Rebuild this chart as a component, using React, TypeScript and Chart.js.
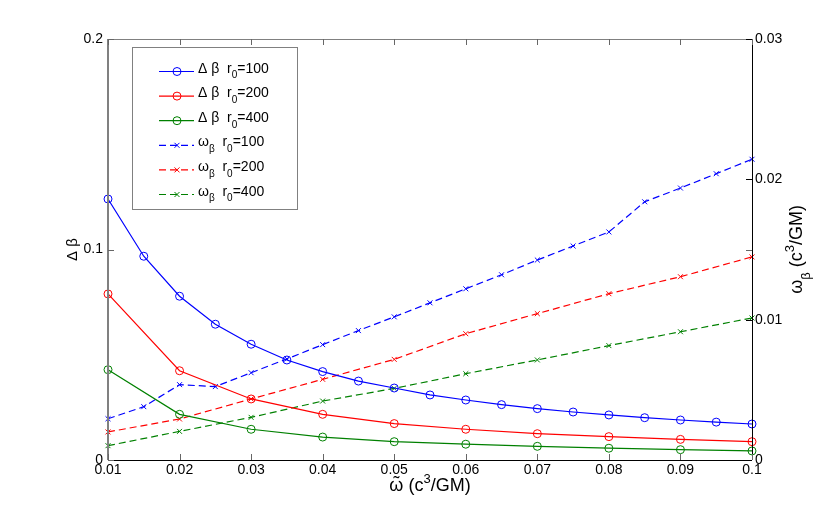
import React, { useRef, useEffect } from "react";
import { Chart, registerables } from "chart.js";

Chart.register(...registerables);

// x values: every 0.005 for r0=100, every 0.01 for the others
const xFine = [
  0.01, 0.015, 0.02, 0.025, 0.03, 0.035, 0.04, 0.045, 0.05, 0.055, 0.06, 0.065,
  0.07, 0.075, 0.08, 0.085, 0.09, 0.095, 0.1,
];
const xCoarse = [0.01, 0.02, 0.03, 0.04, 0.05, 0.06, 0.07, 0.08, 0.09, 0.1];

// Δβ (left axis)
const dbR100 = [
  0.124, 0.0968, 0.0778, 0.0645, 0.055, 0.0475, 0.042, 0.0375, 0.0342, 0.0309,
  0.0285, 0.0263, 0.0244, 0.0228, 0.0214, 0.0201, 0.019, 0.018, 0.0171,
];
const dbR200 = [0.0789, 0.0424, 0.029, 0.0217, 0.0173, 0.0146, 0.0125, 0.0111, 0.0098, 0.0087];
const dbR400 = [0.0429, 0.0217, 0.0146, 0.0109, 0.0087, 0.0075, 0.0065, 0.0056, 0.0049, 0.0043];

// ω_β (right axis)
const wbR100 = [
  0.00294, 0.0038, 0.00537, 0.00523, 0.00622, 0.0072, 0.00822, 0.00922, 0.0102,
  0.0112, 0.0122, 0.0132, 0.01425, 0.01525, 0.01625, 0.0184, 0.01938, 0.0204, 0.02143,
];
const wbR200 = [0.002, 0.00292, 0.00435, 0.00575, 0.00717, 0.009, 0.01043, 0.01185, 0.01306, 0.01447];
const wbR400 = [0.00102, 0.00204, 0.00304, 0.0042, 0.0051, 0.00615, 0.00713, 0.00815, 0.00914, 0.01012];

const xTicks = [0.01, 0.02, 0.03, 0.04, 0.05, 0.06, 0.07, 0.08, 0.09, 0.1];
const yLeftTicks = [0, 0.1, 0.2];
const yRightTicks = [0, 0.01, 0.02, 0.03];

const radiusLabels = ["100", "200", "400"];

const BLUE = "#0000ff";
const RED = "#ff0000";
const GREEN = "#008000";
const FONT = "'Liberation Sans', Arial, sans-serif";

type Seg = { t: string; sub?: boolean; sup?: boolean; tilde?: boolean };

function drawRich(ctx: CanvasRenderingContext2D, segs: Seg[], x: number, y: number, size: number, center: boolean) {
  const small = Math.round(size * 0.72);
  let total = 0;
  for (const s of segs) {
    ctx.font = `${s.sub || s.sup ? small : size}px ${FONT}`;
    total += ctx.measureText(s.t).width;
  }
  let cx = center ? x - total / 2 : x;
  ctx.textAlign = "left";
  ctx.textBaseline = "alphabetic";
  for (const s of segs) {
    ctx.font = `${s.sub || s.sup ? small : size}px ${FONT}`;
    const dy = s.sub ? size * 0.42 : s.sup ? -size * 0.45 : 0;
    const w = ctx.measureText(s.t).width;
    ctx.fillText(s.t, cx, y + dy);
    if (s.tilde) {
      ctx.textAlign = "center";
      ctx.fillText("˜", cx + w / 2, y - size * 0.12);
      ctx.textAlign = "left";
    }
    cx += w;
  }
}

const zip = (xs: number[], ys: number[]) => xs.map((x, i) => ({ x, y: ys[i] }));

const framePlugin = {
  id: "frame",
  afterDraw(chart: any) {
    const { ctx, chartArea: a, scales } = chart;
    const sx = scales.x;
    const sl = scales.y;
    const sr = scales.y1;
    ctx.save();

    // box
    ctx.lineWidth = 1;
    ctx.strokeStyle = "#808080";
    ctx.beginPath();
    ctx.moveTo(a.left, a.top + 0.5);
    ctx.lineTo(a.right, a.top + 0.5);
    ctx.stroke();
    ctx.lineWidth = 2;
    ctx.beginPath();
    ctx.moveTo(a.left, a.top);
    ctx.lineTo(a.left, a.bottom);
    ctx.stroke();
    ctx.strokeStyle = "#000";
    ctx.lineWidth = 1;
    ctx.beginPath();
    ctx.moveTo(a.left, a.bottom + 0.5);
    ctx.lineTo(a.right, a.bottom + 0.5);
    ctx.moveTo(a.right + 0.5, a.top);
    ctx.lineTo(a.right + 0.5, a.bottom);
    ctx.stroke();

    // inward ticks
    const tl = 6;
    ctx.lineWidth = 1;
    ctx.strokeStyle = "#666";
    ctx.beginPath();
    for (const v of xTicks) {
      const px = Math.round(sx.getPixelForValue(v)) + 0.5;
      ctx.moveTo(px, a.bottom);
      ctx.lineTo(px, a.bottom - tl);
      ctx.moveTo(px, a.top);
      ctx.lineTo(px, a.top + tl);
    }
    for (const v of yLeftTicks) {
      const py = Math.round(sl.getPixelForValue(v)) + 0.5;
      ctx.moveTo(a.left, py);
      ctx.lineTo(a.left + tl, py);
      ctx.moveTo(a.right, py);
      ctx.lineTo(a.right - tl, py);
    }
    ctx.stroke();
    ctx.strokeStyle = "#000";
    ctx.beginPath();
    for (const v of yRightTicks) {
      const py = Math.round(sr.getPixelForValue(v)) + 0.5;
      ctx.moveTo(a.right, py);
      ctx.lineTo(a.right - tl, py);
    }
    ctx.stroke();

    // axis titles
    ctx.fillStyle = "#000";
    drawRich(
      ctx,
      [{ t: "ω", tilde: true }, { t: " (c" }, { t: "3", sup: true }, { t: "/GM)" }],
      (a.left + a.right) / 2,
      491,
      18,
      true
    );

    ctx.save();
    ctx.translate(77, (a.top + a.bottom) / 2);
    ctx.rotate(-Math.PI / 2);
    drawRich(ctx, [{ t: "Δ β" }], 0, 0, 15, true);
    ctx.restore();

    ctx.save();
    ctx.translate(802, (a.top + a.bottom) / 2);
    ctx.rotate(-Math.PI / 2);
    drawRich(ctx, [{ t: "ω" }, { t: "β", sub: true }, { t: " (c" }, { t: "3", sup: true }, { t: "/GM)" }], 0, 0, 18, true);
    ctx.restore();

    // legend
    const bx = 132.5, by = 47.5, bw = 165, bh = 162;
    ctx.fillStyle = "#fff";
    ctx.fillRect(bx, by, bw, bh);
    ctx.strokeStyle = "#808080";
    ctx.lineWidth = 1;
    ctx.strokeRect(bx, by, bw, bh);

    chart.data.datasets.forEach((ds: any, i: number) => {
      const ly = 71.5 + i * 24.6;
      ctx.strokeStyle = ds.borderColor;
      ctx.lineWidth = 1.2;
      ctx.setLineDash(ds.borderDash || []);
      ctx.beginPath();
      ctx.moveTo(159, ly);
      ctx.lineTo(194, ly);
      ctx.stroke();
      ctx.setLineDash([]);
      ctx.lineWidth = 1;
      ctx.beginPath();
      if (ds.pointStyle === "circle") {
        ctx.arc(177, ly, 4, 0, Math.PI * 2);
      } else {
        ctx.moveTo(174.5, ly - 2.5);
        ctx.lineTo(179.5, ly + 2.5);
        ctx.moveTo(179.5, ly - 2.5);
        ctx.lineTo(174.5, ly + 2.5);
      }
      ctx.stroke();
      ctx.fillStyle = "#000";
      const r = radiusLabels[i % 3];
      const segs: Seg[] =
        i < 3
          ? [{ t: "Δ β  r" }, { t: "0", sub: true }, { t: "=" + r }]
          : [{ t: "ω" }, { t: "β", sub: true }, { t: "  r" }, { t: "0", sub: true }, { t: "=" + r }];
      drawRich(ctx, segs, 198, ly + 1, 14, false);
    });

    ctx.restore();
  },
};

const App: React.FC = () => {
  const chartRef = useRef<HTMLCanvasElement>(null);

  useEffect(() => {
    if (!chartRef.current) return;

    const line = (label: string, xs: number[], ys: number[], color: string, omega: boolean) => ({
      label,
      data: zip(xs, ys),
      yAxisID: omega ? "y1" : "y",
      borderColor: color,
      backgroundColor: color,
      borderWidth: 1.2,
      borderDash: omega ? [7, 4] : undefined,
      pointStyle: omega ? "crossRot" : "circle",
      pointRadius: omega ? 3.5 : 4,
      pointBorderWidth: 1,
      pointBackgroundColor: "rgba(0,0,0,0)",
      pointBorderColor: color,
      fill: false,
      tension: 0,
      clip: false as any,
    });

    const chart = new Chart(chartRef.current, {
      type: "line",
      data: {
        datasets: [
          line("Δβ r0=100", xFine, dbR100, BLUE, false),
          line("Δβ r0=200", xCoarse, dbR200, RED, false),
          line("Δβ r0=400", xCoarse, dbR400, GREEN, false),
          line("ωβ r0=100", xFine, wbR100, BLUE, true),
          line("ωβ r0=200", xCoarse, wbR200, RED, true),
          line("ωβ r0=400", xCoarse, wbR400, GREEN, true),
        ] as any,
      },
      options: {
        animation: false,
        responsive: false,
        devicePixelRatio: 1,
        layout: { padding: { top: 39, left: 0, right: 0, bottom: 0 } },
        plugins: {
          legend: { display: false },
          tooltip: { enabled: false },
        },
        scales: {
          x: {
            type: "linear",
            min: 0.01,
            max: 0.1,
            grid: { display: false, drawTicks: false },
            border: { display: false },
            ticks: {
              padding: 2,
              color: "#000",
              font: { family: FONT, size: 14 },
              maxRotation: 0,
              callback: (v: any) => String(v),
            },
            afterBuildTicks: (s: any) => {
              s.ticks = xTicks.map((v) => ({ value: v }));
            },
            afterFit: (s: any) => {
              s.height = 58;
            },
          },
          y: {
            type: "linear",
            position: "left",
            min: 0,
            max: 0.2,
            grid: { display: false, drawTicks: false },
            border: { display: false },
            ticks: {
              padding: 5,
              color: "#000",
              font: { family: FONT, size: 14 },
              callback: (v: any) => String(v),
            },
            afterBuildTicks: (s: any) => {
              s.ticks = yLeftTicks.map((v) => ({ value: v }));
            },
            afterFit: (s: any) => {
              s.width = 108;
            },
          },
          y1: {
            type: "linear",
            position: "right",
            min: 0,
            max: 0.03,
            grid: { display: false, drawTicks: false },
            border: { display: false },
            ticks: {
              padding: 3,
              color: "#000",
              font: { family: FONT, size: 14 },
              callback: (v: any) => String(v),
            },
            afterBuildTicks: (s: any) => {
              s.ticks = yRightTicks.map((v) => ({ value: v }));
            },
            afterFit: (s: any) => {
              s.width = 78;
            },
          },
        },
      },
      plugins: [framePlugin],
    });

    return () => {
      chart.destroy();
    };
  }, []);

  return (
    <div style={{ position: "absolute", left: 0, top: 0, width: 830, height: 518, background: "#fff" }}>
      <canvas ref={chartRef} width={830} height={518} />
    </div>
  );
};

export default App;
